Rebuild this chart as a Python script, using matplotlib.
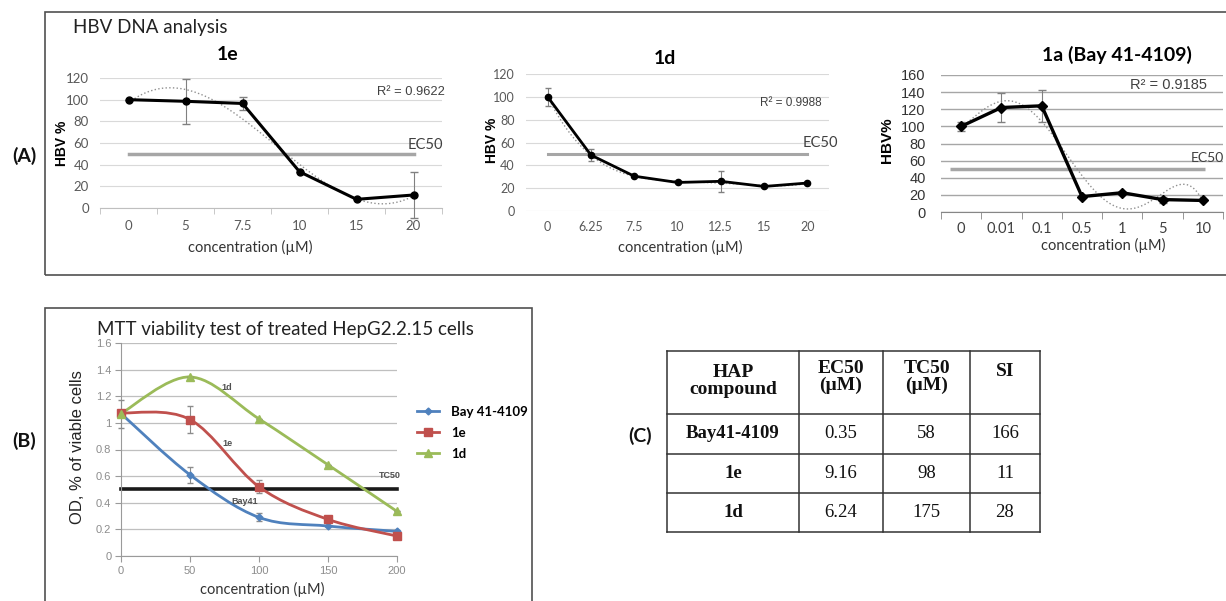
import numpy as np
import matplotlib
matplotlib.use("Agg")
import matplotlib.pyplot as plt
from matplotlib.path import Path
from matplotlib.patches import PathPatch, Rectangle
from matplotlib.lines import Line2D

# ---------------- data ----------------
conc_1e = ['0', '5', '7.5', '10', '15', '20']
hbv_1e = [100, 98.5, 96.5, 33.5, 8, 12]
err_1e = [0, 20.5, 6, 0, 0, 21]

conc_1d = ['0', '6.25', '7.5', '10', '12.5', '15', '20']
hbv_1d = [100, 49, 30.5, 25, 26, 21.5, 24.5]
err_1d = [8, 5.5, 0, 0, 9, 0, 0]

conc_1a = ['0', '0.01', '0.1', '0.5', '1', '5', '10']
hbv_1a = [100, 122, 124, 18, 22.5, 14.5, 13.5]
err_1a = [5, 17, 19, 0, 0, 3.5, 0]

ec50_level = 50
r2_1e, r2_1d, r2_1a = '0.9622', '0.9988', '0.9185'
trend_deg_1e, trend_deg_1d, trend_deg_1a = 3, 4, 5

mtt_conc = [0, 50, 100, 150, 200]
od_bay = [1.07, 0.61, 0.29, 0.225, 0.185]
od_1e = [1.075, 1.025, 0.52, 0.275, 0.15]
od_1d = [1.07, 1.345, 1.03, 0.685, 0.335]
oderr_bay = [0, 0.06, 0.03, 0, 0.01]
oderr_1e = [0, 0.1, 0.05, 0.01, 0]
oderr_1d = [0.105, 0, 0, 0, 0]
tc50_level = 0.5

tbl_header = ['HAP\ncompound', 'EC50\n(µM)', 'TC50\n(µM)', 'SI']
tbl_compound = ['Bay41-4109', '1e', '1d']
tbl_ec50 = ['0.35', '9.16', '6.24']
tbl_tc50 = ['58', '98', '175']
tbl_si = ['166', '11', '28']

# ---------------- layout helpers ----------------
W, H = 1226, 601
fig = plt.figure(figsize=(W / 100, H / 100), dpi=100)

def rect(x0, y0, x1, y1):
    return [x0 / W, 1 - y1 / H, (x1 - x0) / W, (y1 - y0) / H]

def ftext(x, y, s, **kw):
    fig.text(x / W, 1 - y / H, s, **kw)

CAL = 'Lato'
ARI = 'Liberation Sans'
SER = 'Liberation Serif'

# frames
fig.add_artist(Rectangle((45 / W, 1 - 275 / H), (1240 - 45) / W, (275 - 12) / H,
                         transform=fig.transFigure, fill=False, ec='#505050', lw=1.2))
fig.add_artist(Rectangle((45 / W, 1 - 640 / H), (532 - 45) / W, (640 - 308) / H,
                         transform=fig.transFigure, fill=False, ec='#505050', lw=1.2))

ftext(73, 28, 'HBV DNA analysis', fontfamily=CAL, fontsize=13.5, color='#222222', va='center')
for lbl, x, y in [('(A)', 24, 156), ('(B)', 24, 441), ('(C)', 640, 436)]:
    ftext(x, y, lbl, fontfamily=CAL, fontweight='bold', fontsize=14, ha='center', va='center', color='#111111')


def trend(ax, y, deg, n):
    xi = np.arange(n)
    c = np.polyfit(xi, y, deg)
    xs = np.linspace(0, n - 1, 200)
    ax.plot(xs, np.polyval(c, xs), ls=':', color='#909090', lw=1.0, zorder=3)

# ---------------- A1: 1e ----------------
ax1 = fig.add_axes(rect(100, 78, 442, 208))
n = len(conc_1e)
x = np.arange(n)
ax1.set_xlim(-0.5, n - 0.5)
ax1.set_ylim(0, 120)
ax1.set_yticks(range(0, 121, 20))
ax1.grid(axis='y', color='#D9D9D9', lw=0.8)
ax1.set_axisbelow(True)
for s in ['left', 'right', 'top']:
    ax1.spines[s].set_visible(False)
ax1.spines['bottom'].set_color('#BFBFBF')
ax1.set_xticks(x)
ax1.set_xticklabels(conc_1e)
ax1.set_xticks(np.arange(-0.5, n, 1), minor=True)
ax1.tick_params(axis='x', which='major', length=0, pad=9, labelsize=9.5, labelcolor='#595959')
ax1.tick_params(axis='x', which='minor', length=4, color='#BFBFBF')
ax1.tick_params(axis='y', length=0, pad=8, labelsize=9.5, labelcolor='#595959')
for t in ax1.get_xticklabels() + ax1.get_yticklabels():
    t.set_fontfamily(CAL)
ax1.plot(x, [ec50_level] * n, color='#A6A6A6', lw=2.5, zorder=2)
ax1.errorbar(x, hbv_1e, yerr=err_1e, fmt='none', ecolor='#808080', elinewidth=0.8, capsize=3, zorder=4, clip_on=False)
trend(ax1, hbv_1e, trend_deg_1e, n)
ax1.plot(x, hbv_1e, color='black', lw=2.2, marker='o', ms=5, zorder=5)
ftext(228, 55, '1e', fontfamily=CAL, fontweight='bold', fontsize=14, ha='center', va='center')
ftext(445, 92, 'R² = ' + r2_1e, fontfamily=ARI, fontsize=9.3, color='#404040', ha='right', va='center')
ftext(443, 145, 'EC50', fontfamily=CAL, fontsize=10.5, color='#404040', ha='right', va='center')
ftext(62, 143, 'HBV %', fontfamily=ARI, fontweight='bold', fontsize=10, rotation=90, ha='center', va='center')
ftext(250, 247, 'concentration (µM)', fontfamily=CAL, fontsize=10.5, color='#333333', ha='center', va='center')

# ---------------- A2: 1d ----------------
ax2 = fig.add_axes(rect(526, 74, 829, 211))
n = len(conc_1d)
x = np.arange(n)
ax2.set_xlim(-0.5, n - 0.5)
ax2.set_ylim(0, 120)
ax2.set_yticks(range(0, 121, 20))
ax2.grid(axis='y', color='#D9D9D9', lw=0.8)
ax2.set_axisbelow(True)
for s in ax2.spines.values():
    s.set_visible(False)
ax2.set_xticks(x)
ax2.set_xticklabels(conc_1d)
ax2.tick_params(axis='x', length=0, pad=7, labelsize=9, labelcolor='#595959')
ax2.tick_params(axis='y', length=0, pad=8, labelsize=9, labelcolor='#595959')
for t in ax2.get_xticklabels() + ax2.get_yticklabels():
    t.set_fontfamily(CAL)
ax2.plot(x, [ec50_level] * n, color='#A6A6A6', lw=2.2, zorder=2)
ax2.errorbar(x, hbv_1d, yerr=err_1d, fmt='none', ecolor='#808080', elinewidth=0.8, capsize=2.5, zorder=4)
trend(ax2, hbv_1d, trend_deg_1d, n)
ax2.plot(x, hbv_1d, color='black', lw=2.0, marker='o', ms=4.5, zorder=5)
ftext(665, 58, '1d', fontfamily=CAL, fontweight='bold', fontsize=14, ha='center', va='center')
ftext(822, 103, 'R² = ' + r2_1d, fontfamily=ARI, fontsize=8.5, color='#404040', ha='right', va='center')
ftext(803, 143, 'EC50', fontfamily=CAL, fontsize=10.5, color='#404040', ha='left', va='center')
ftext(492, 140, 'HBV %', fontfamily=ARI, fontweight='bold', fontsize=10, rotation=90, ha='center', va='center')
ftext(680, 247, 'concentration (µM)', fontfamily=CAL, fontsize=10.5, color='#333333', ha='center', va='center')

# ---------------- A3: 1a ----------------
ax3 = fig.add_axes(rect(941, 75, 1223, 212))
n = len(conc_1a)
x = np.arange(n)
ax3.set_xlim(-0.5, n - 0.5)
ax3.set_ylim(0, 160)
ax3.set_yticks(range(0, 161, 20))
ax3.grid(axis='y', color='#A6A6A6', lw=1.0)
ax3.set_axisbelow(True)
for s in ['left', 'right', 'top']:
    ax3.spines[s].set_visible(False)
ax3.spines['bottom'].set_color('#868686')
ax3.set_xticks(x)
ax3.set_xticklabels(conc_1a)
ax3.set_xticks(np.arange(-0.5, n, 1), minor=True)
ax3.tick_params(axis='x', which='major', length=0, pad=7, labelsize=10.5, labelcolor='#404040')
ax3.tick_params(axis='x', which='minor', length=5, color='#868686')
ax3.tick_params(axis='y', length=0, pad=11, labelsize=10.5, labelcolor='#333333')
for t in ax3.get_xticklabels():
    t.set_fontfamily(CAL)
for t in ax3.get_yticklabels():
    t.set_fontfamily(ARI)
ax3.hlines(ec50_level, -0.27, n - 0.95, color='#A6A6A6', lw=2.5, zorder=2)
ax3.errorbar(x, hbv_1a, yerr=err_1a, fmt='none', ecolor='#808080', elinewidth=0.8, capsize=3, zorder=4)
trend(ax3, hbv_1a, trend_deg_1a, n)
ax3.plot(x, hbv_1a, color='black', lw=2.4, marker='D', ms=5, zorder=5)
ftext(1117, 55, '1a (Bay 41-4109)', fontfamily=CAL, fontweight='bold', fontsize=14, ha='center', va='center')
ftext(1207, 85, 'R² = ' + r2_1a, fontfamily=ARI, fontsize=10.5, color='#404040', ha='right', va='center')
ftext(1224, 158, 'EC50', fontfamily=CAL, fontsize=10, color='#404040', ha='right', va='center')
ftext(887, 140, 'HBV%', fontfamily=ARI, fontweight='bold', fontsize=11, rotation=90, ha='center', va='center')
ftext(1103, 245, 'concentration (µM)', fontfamily=CAL, fontsize=10.5, color='#333333', ha='center', va='center')

# ---------------- B: MTT ----------------
def smooth_path(xv, yv):
    pts = np.column_stack([xv, yv]).astype(float)
    m = len(pts)
    verts = [pts[0]]
    codes = [Path.MOVETO]
    for i in range(m - 1):
        p0 = pts[i - 1] if i > 0 else pts[i]
        p1 = pts[i]
        p2 = pts[i + 1]
        p3 = pts[i + 2] if i + 2 < m else pts[i + 1]
        verts += [p1 + (p2 - p0) / 6, p2 - (p3 - p1) / 6, p2]
        codes += [Path.CURVE4] * 3
    return Path(verts, codes)

axb = fig.add_axes(rect(121, 343, 397, 556))
axb.set_xlim(0, 200)
axb.set_ylim(0, 1.6)
axb.set_xticks(mtt_conc)
yt = np.round(np.arange(0, 1.61, 0.2), 1)
axb.set_yticks(yt)
axb.set_yticklabels(['%g' % v for v in yt])
axb.grid(axis='y', color='#BFBFBF', lw=0.9)
axb.set_axisbelow(True)
for s in ['right', 'top']:
    axb.spines[s].set_visible(False)
for s in ['left', 'bottom']:
    axb.spines[s].set_color('#9A9A9A')
axb.tick_params(length=4, color='#9A9A9A', labelsize=8, labelcolor='#8C8C8C', pad=3)
for t in axb.get_xticklabels() + axb.get_yticklabels():
    t.set_fontfamily(ARI)

series = [('Bay 41-4109', od_bay, oderr_bay, '#4F81BD', 'D', 3.5),
          ('1e', od_1e, oderr_1e, '#C0504D', 's', 6),
          ('1d', od_1d, oderr_1d, '#9BBB59', '^', 6)]
handles = []
for name, yv, ev, col, mk, ms in series:
    axb.add_patch(PathPatch(smooth_path(mtt_conc, yv), fill=False, ec=col, lw=2.0, zorder=3))
    axb.errorbar(mtt_conc, yv, yerr=ev, fmt='none', ecolor='#8C8C8C', elinewidth=0.8, capsize=2.5, zorder=4, clip_on=False)
    axb.plot(mtt_conc, yv, ls='none', marker=mk, ms=ms, color=col, zorder=5, clip_on=False)
    handles.append(Line2D([], [], color=col, lw=2.0, marker=mk, ms=ms))
axb.plot(mtt_conc, [tc50_level] * len(mtt_conc), color='#1A1A1A', lw=2.6, zorder=2, clip_on=False)

leg = fig.legend(handles, [s[0] for s in series], loc='upper left',
                 bbox_to_anchor=(405 / W, 1 - 394 / H), frameon=False,
                 handlelength=1.7, handletextpad=0.9, labelspacing=0.68,
                 prop={'family': CAL, 'weight': 'bold', 'size': 9.5})

ftext(285, 329, 'MTT viability test of treated HepG2.2.15 cells', fontfamily=CAL, fontsize=13.5, color='#222222', ha='center', va='center')
ftext(77, 447, 'OD, % of viable cells', fontfamily=ARI, fontsize=12, rotation=90, ha='center', va='center', color='#222222')
ftext(262, 589, 'concentration (µM)', fontfamily=CAL, fontsize=10.5, color='#333333', ha='center', va='center')
for s_, x_, y_ in [('1d', 227, 387), ('1e', 227, 443), ('Bay41', 245, 501), ('TC50', 390, 476)]:
    ftext(x_, y_, s_, fontfamily=ARI, fontweight='bold', fontsize=6.5, color='#505050', ha='center', va='center')

# ---------------- C: table ----------------
col_edges = [667, 799, 883, 970, 1040]
row_edges = [351, 414, 454, 493, 532]
axt = fig.add_axes(rect(col_edges[0], row_edges[0], col_edges[-1], row_edges[-1]))
axt.set_xlim(col_edges[0], col_edges[-1])
axt.set_ylim(row_edges[-1], row_edges[0])
axt.axis('off')
for xe in col_edges:
    axt.plot([xe, xe], [row_edges[0], row_edges[-1]], color='#333333', lw=1.1, clip_on=False, solid_capstyle='projecting')
for ye in row_edges:
    axt.plot([col_edges[0], col_edges[-1]], [ye, ye], color='#333333', lw=1.1, clip_on=False, solid_capstyle='projecting')
ccen = [(col_edges[i] + col_edges[i + 1]) / 2 for i in range(4)]
hdr_y = [381, 377, 377, 372]
for i, h in enumerate(tbl_header):
    axt.text(ccen[i], hdr_y[i], h, fontfamily=SER, fontweight='bold', fontsize=14, ha='center', va='center',
             linespacing=0.95, color='#111111')
rows = list(zip(tbl_compound, tbl_ec50, tbl_tc50, tbl_si))
for r, vals in enumerate(rows):
    yc = (row_edges[r + 1] + row_edges[r + 2]) / 2
    for c, v in enumerate(vals):
        axt.text(ccen[c], yc, v, fontfamily=SER, fontweight='bold' if c == 0 else 'normal', fontsize=13.5,
                 ha='center', va='center', color='#111111')

fig.savefig('out.png', dpi=100)
